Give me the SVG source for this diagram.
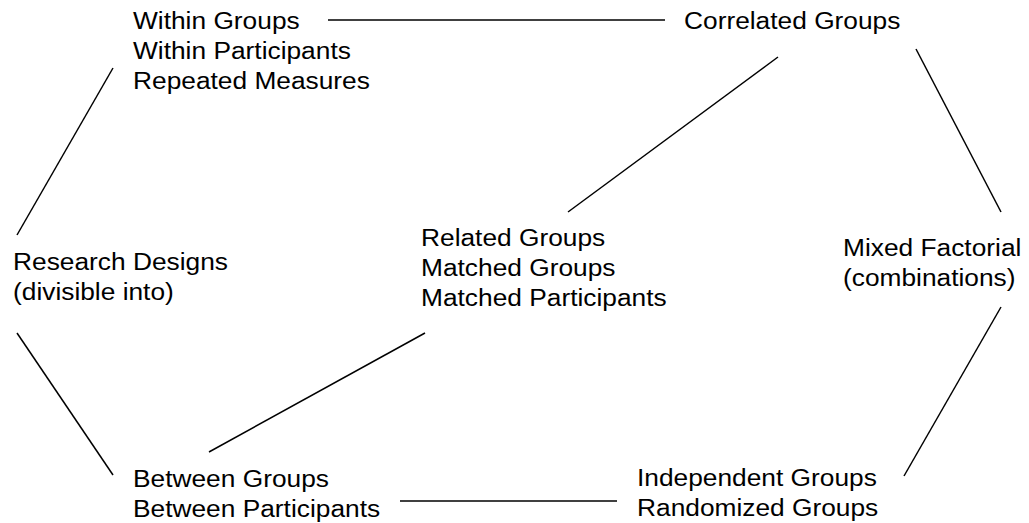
<svg xmlns="http://www.w3.org/2000/svg" width="1029" height="523" viewBox="0 0 1029 523">
<style>
.t{font-family:"Liberation Sans",Arial,sans-serif;font-size:23.5px;fill:#000}
.c line{stroke:#000;stroke-width:1.5;fill:none}
</style>
<rect width="1029" height="523" fill="#fff"/>
<g class="c" id="connectors">
<line x1="328" y1="20" x2="665" y2="20"/>
<line x1="778" y1="57" x2="568" y2="212"/>
<line x1="916" y1="49" x2="1001" y2="212"/>
<line x1="113" y1="68" x2="17" y2="235"/>
<line x1="17" y1="333" x2="113" y2="475"/>
<line x1="425" y1="333" x2="209" y2="452"/>
<line x1="1001" y1="307" x2="904" y2="476"/>
<line x1="400" y1="501" x2="617" y2="501"/>
</g>
<g id="within"><text class="t" transform="translate(133,29) scale(1.12,1)"><tspan x="0" y="0">Within Groups</tspan><tspan x="0" y="30">Within Participants</tspan><tspan x="0" y="60">Repeated Measures</tspan></text></g>
<g id="correlated"><text class="t" transform="translate(684,29) scale(1.12,1)"><tspan x="0" y="0">Correlated Groups</tspan></text></g>
<g id="research"><text class="t" transform="translate(13,270) scale(1.12,1)"><tspan x="0" y="0">Research Designs</tspan><tspan x="0" y="30">(divisible into)</tspan></text></g>
<g id="related"><text class="t" transform="translate(421,246) scale(1.12,1)"><tspan x="0" y="0">Related Groups</tspan><tspan x="0" y="30">Matched Groups</tspan><tspan x="0" y="60">Matched Participants</tspan></text></g>
<g id="mixed"><text class="t" transform="translate(843,256) scale(1.12,1)"><tspan x="0" y="0">Mixed Factorial</tspan><tspan x="0" y="30">(combinations)</tspan></text></g>
<g id="between"><text class="t" transform="translate(133,487) scale(1.12,1)"><tspan x="0" y="0">Between Groups</tspan><tspan x="0" y="30">Between Participants</tspan></text></g>
<g id="independent"><text class="t" transform="translate(637,486) scale(1.12,1)"><tspan x="0" y="0">Independent Groups</tspan><tspan x="0" y="30">Randomized Groups</tspan></text></g>
</svg>
